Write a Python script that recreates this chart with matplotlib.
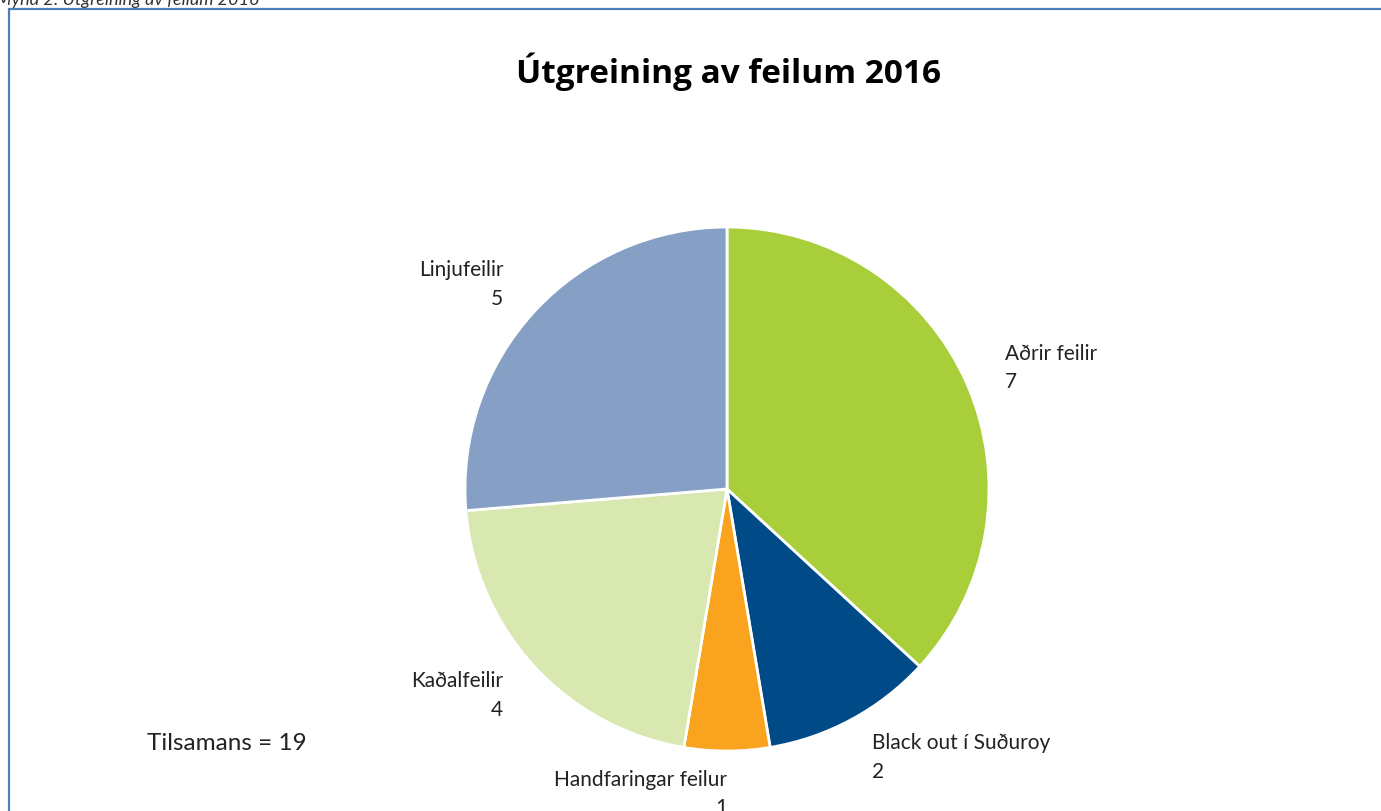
import matplotlib
matplotlib.use("Agg")
import numpy as np
import matplotlib.pyplot as plt
from matplotlib.patches import Rectangle

# --- Data ---
categories = ["Aðrir feilir", "Black out í Suðuroy", "Handfaringar feilur",
              "Kaðalfeilir", "Linjufeilir"]
counts = [7, 2, 1, 4, 5]
colors = ["#A8CE3A", "#004B87", "#F9A31E", "#D9E8B0", "#869FC5"]

TITLE = "Útgreining av feilum 2016"
CAPTION = "Mynd 2: Útgreining av feilum 2016"

W, H = 1381, 812
LABEL_FONT = ["Lato", "DejaVu Sans"]
TITLE_FONT = ["Open Sans", "DejaVu Sans"]

fig = plt.figure(figsize=(W / 100, H / 100), dpi=100)
fig.patch.set_facecolor("white")

# pixel-like axes over the whole figure
ax = fig.add_axes([0, 0, 1, 1])
ax.set_xlim(0, W)
ax.set_ylim(0, H)
ax.set_aspect("equal")
ax.axis("off")

labels = [f"{c}\n{v}" for c, v in zip(categories, counts)]
wedges, texts = ax.pie(counts, labels=labels, colors=colors,
                       startangle=90, counterclock=False,
                       center=(727, H - 490), radius=262,
                       labeldistance=1.16,
                       wedgeprops=dict(edgecolor="white", linewidth=2),
                       textprops=dict(fontsize=15, family=LABEL_FONT,
                                      color="#222222", linespacing=1.55))
ax.set_xlim(0, W)
ax.set_ylim(0, H)

# pie aligns labels relative to 0, not to the centre, so redo it per wedge
for w, t in zip(wedges, texts):
    mid = np.deg2rad((w.theta1 + w.theta2) / 2)
    ha = "left" if np.cos(mid) > 1e-9 else "right"
    t.set_horizontalalignment(ha)
    t.set_multialignment(ha)

# chart frame (cut off at right and bottom)
frame = Rectangle((9, -20), W + 20, H - 10 + 20, fill=False,
                  edgecolor="#4F7FB8", linewidth=1.6, zorder=0)
ax.add_patch(frame)

ax.text(729, H - 72, TITLE, ha="center", va="center", fontsize=24,
        fontweight="bold", family=TITLE_FONT, color="black")

ax.text(147, H - 744, f"Tilsamans = {sum(counts)}", ha="left", va="center",
        fontsize=17.5, family=LABEL_FONT, color="#222222")

# caption mostly cut off at the top edge
ax.text(-4, H + 2, CAPTION, ha="left", va="center", fontsize=13,
        style="italic", family=LABEL_FONT, color="#333333")

fig.savefig("out.png", dpi=100)
